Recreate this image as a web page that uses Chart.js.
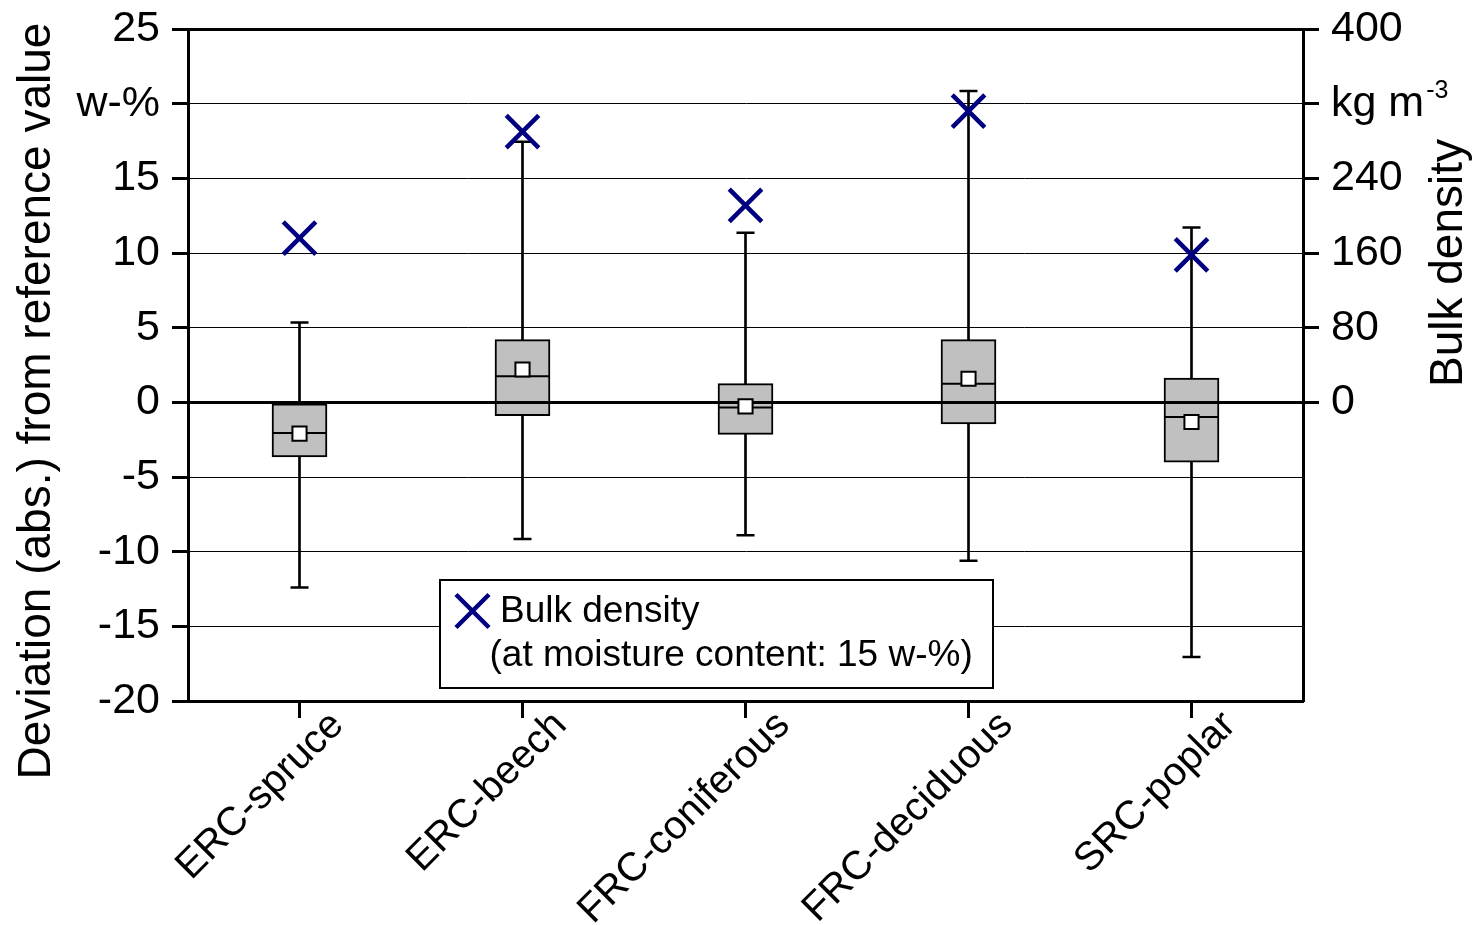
<!DOCTYPE html>
<html>
<head>
<meta charset="utf-8">
<script src="https://cdn.jsdelivr.net/npm/chart.js@4.4.1/dist/chart.umd.min.js"></script>
<style>
  html, body { margin: 0; padding: 0; background: #fff; }
  #wrap { width: 1474px; height: 925px; }
</style>
</head>
<body>
<div id="wrap"><canvas id="chart" width="1474" height="925"></canvas></div>
<script>
// Deviation (abs.) from reference value, w-%
var categories = ['ERC-spruce', 'ERC-beech', 'FRC-coniferous', 'FRC-deciduous', 'SRC-poplar'];
var whiskerLow = [-12.4, -9.15, -8.9, -10.6, -17.05];
var quartile1 = [-3.65, -0.9, -2.15, -1.45, -4.0];
var medians = [-2.05, 1.75, -0.35, 1.25, -0.98];
var quartile3 = [0.0, 4.2, 1.25, 4.2, 1.62];
var whiskerHigh = [5.35, 17.45, 11.35, 20.85, 11.7];
var means = [-2.1, 2.2, -0.27, 1.58, -1.32];

// Bulk density at 15 w-% moisture content, kg m-3 (right axis)
var bulkDensity = [176, 290, 211, 312, 158];

var leftUnitLabel = 'w-%';
var rightUnitLabel = 'kg m';
var rightUnitExponent = '-3';
var leftTitle = 'Deviation (abs.) from reference value';
var rightTitle = 'Bulk density';
var legendLines = ['Bulk density', '(at moisture content: 15 w-%)'];

var FONT = "'Liberation Sans', Arial, Helvetica, sans-serif";
var NAVY = '#000080';
var MEAN_INDEX = 4;
var Y_TICK_SIZE = 43;

Chart.defaults.font.family = FONT;
Chart.defaults.color = '#000';

function boxPairs(lo, hi) {
    return lo.map(function (v, i) { return [v, hi[i]]; });
}

var overlayPlugin = {
    id: 'overlay',
    beforeDatasetDraw: function (chart, args) {
        // zero line sits on top of the boxes, below the means
        if (args.index !== MEAN_INDEX) return;
        var ctx = chart.ctx;
        var area = chart.chartArea;
        var y0 = Math.round(chart.scales.y.getPixelForValue(0)) + 0.5;
        ctx.save();
        ctx.strokeStyle = '#000';
        ctx.lineWidth = 3;
        ctx.beginPath();
        ctx.moveTo(area.left, y0);
        ctx.lineTo(area.right, y0);
        ctx.stroke();
        ctx.restore();
    },
    afterDraw: function (chart) {
        var ctx = chart.ctx;
        var yr = chart.scales.y1;
        ctx.save();
        ctx.fillStyle = '#000';

        // axis titles, both reading bottom to top
        ctx.font = '46px ' + FONT;
        ctx.textBaseline = 'alphabetic';
        ctx.textAlign = 'center';
        ctx.save();
        ctx.translate(50, 401);
        ctx.rotate(-Math.PI / 2);
        ctx.fillText(leftTitle, 0, 0);
        ctx.restore();

        ctx.textAlign = 'left';
        ctx.save();
        ctx.translate(1462, 387);
        ctx.rotate(-Math.PI / 2);
        ctx.fillText(rightTitle, 0, 0);
        ctx.restore();

        // superscript of the right unit
        ctx.font = Y_TICK_SIZE + 'px ' + FONT;
        var ux = yr.left + 16 + 12 + ctx.measureText(rightUnitLabel).width + 2;
        var uy = yr.getPixelForValue(320) - 6;
        ctx.font = '25px ' + FONT;
        ctx.fillText(rightUnitExponent, ux, uy);

        // legend box
        ctx.fillStyle = '#fff';
        ctx.fillRect(440, 580, 553, 108);
        ctx.strokeStyle = '#000';
        ctx.lineWidth = 2;
        ctx.strokeRect(440, 580, 553, 108);
        ctx.strokeStyle = NAVY;
        ctx.lineWidth = 4.5;
        ctx.beginPath();
        ctx.moveTo(472.5 - 16.5, 611 - 16.5);
        ctx.lineTo(472.5 + 16.5, 611 + 16.5);
        ctx.moveTo(472.5 + 16.5, 611 - 16.5);
        ctx.lineTo(472.5 - 16.5, 611 + 16.5);
        ctx.stroke();
        ctx.fillStyle = '#000';
        ctx.font = '37px ' + FONT;
        ctx.fillText(legendLines[0], 500, 622);
        ctx.fillText(legendLines[1], 489.5, 666);
        ctx.restore();
    }
};

function fixWidth(w) {
    return function (s) {
        s.width = w;
        s.paddingTop = 0;
        s.paddingBottom = 0;
    };
}

new Chart(document.getElementById('chart'), {
    type: 'bar',
    data: {
        labels: categories,
        datasets: [
            {
                label: 'whisker',
                data: boxPairs(whiskerLow, whiskerHigh),
                backgroundColor: '#000',
                borderWidth: 0,
                barThickness: 2,
                grouped: false,
                order: 6,
            },
            {
                label: 'box',
                data: boxPairs(quartile1, quartile3),
                backgroundColor: '#c0c0c0',
                borderColor: '#000',
                borderWidth: 2,
                borderSkipped: false,
                barThickness: 55,
                grouped: false,
                order: 5,
            },
            {
                type: 'line',
                label: 'median',
                data: medians,
                showLine: false,
                pointStyle: 'line',
                pointRadius: 27,
                borderColor: '#000',
                pointBorderWidth: 2,
                order: 4,
            },
            {
                type: 'line',
                label: 'caps',
                data: whiskerHigh,
                showLine: false,
                pointStyle: 'line',
                pointRadius: 9,
                borderColor: '#000',
                pointBorderWidth: 2.5,
                order: 3,
            },
            {
                type: 'line',
                label: 'mean',
                data: means,
                showLine: false,
                pointStyle: 'rect',
                pointRadius: 10,
                pointBackgroundColor: '#fff',
                borderColor: '#000',
                pointBorderWidth: 2,
                order: 2,
            },
            {
                type: 'line',
                label: 'capsLow',
                data: whiskerLow,
                showLine: false,
                pointStyle: 'line',
                pointRadius: 9,
                borderColor: '#000',
                pointBorderWidth: 2.5,
                order: 3,
            },
            {
                type: 'line',
                label: 'Bulk density',
                data: bulkDensity,
                yAxisID: 'y1',
                showLine: false,
                pointStyle: 'crossRot',
                pointRadius: 23,
                borderColor: NAVY,
                pointBorderWidth: 4.5,
                order: 1,
            },
        ],
    },
    options: {
        responsive: false,
        animation: false,
        events: [],
        layout: { padding: { top: 27, left: 0, right: 0, bottom: 0 } },
        plugins: {
            legend: { display: false },
            tooltip: { enabled: false },
        },
        scales: {
            x: {
                type: 'category',
                offset: true,
                grid: { offset: false, drawOnChartArea: false, tickLength: 17, tickWidth: 3, tickColor: '#000' },
                border: { display: true, width: 3, color: '#000' },
                ticks: {
                    minRotation: 45,
                    maxRotation: 45,
                    autoSkip: false,
                    padding: -16,
                    labelOffset: 38,
                    color: '#000',
                    font: { size: 40 },
                },
                afterFit: function (s) {
                    s.height = 224;
                    s.paddingLeft = 0;
                    s.paddingRight = 0;
                },
            },
            y: {
                position: 'left',
                min: -20,
                max: 25,
                ticks: {
                    stepSize: 5,
                    padding: 12,
                    color: '#000',
                    font: { size: Y_TICK_SIZE },
                    callback: function (v) { return v === 20 ? leftUnitLabel : v; },
                },
                grid: {
                    color: '#000',
                    lineWidth: function (c) {
                        var v = c.tick ? c.tick.value : null;
                        return v === 0 || v === 25 ? 3 : 1;
                    },
                    tickLength: 16,
                    tickWidth: 3,
                    tickColor: '#000',
                },
                border: { display: true, width: 3, color: '#000' },
                afterFit: fixWidth(188),
            },
            y1: {
                position: 'right',
                min: -320,
                max: 400,
                ticks: {
                    stepSize: 80,
                    padding: 12,
                    color: '#000',
                    font: { size: Y_TICK_SIZE },
                    callback: function (v) { return v === 320 ? rightUnitLabel : v; },
                },
                afterBuildTicks: function (s) {
                    s.ticks = s.ticks.filter(function (t) { return t.value >= 0; });
                },
                grid: { drawOnChartArea: false, tickLength: 16, tickWidth: 3, tickColor: '#000' },
                border: { display: true, width: 3, color: '#000' },
                afterFit: fixWidth(171),
            },
        },
    },
    plugins: [overlayPlugin],
});
</script>
</body>
</html>
